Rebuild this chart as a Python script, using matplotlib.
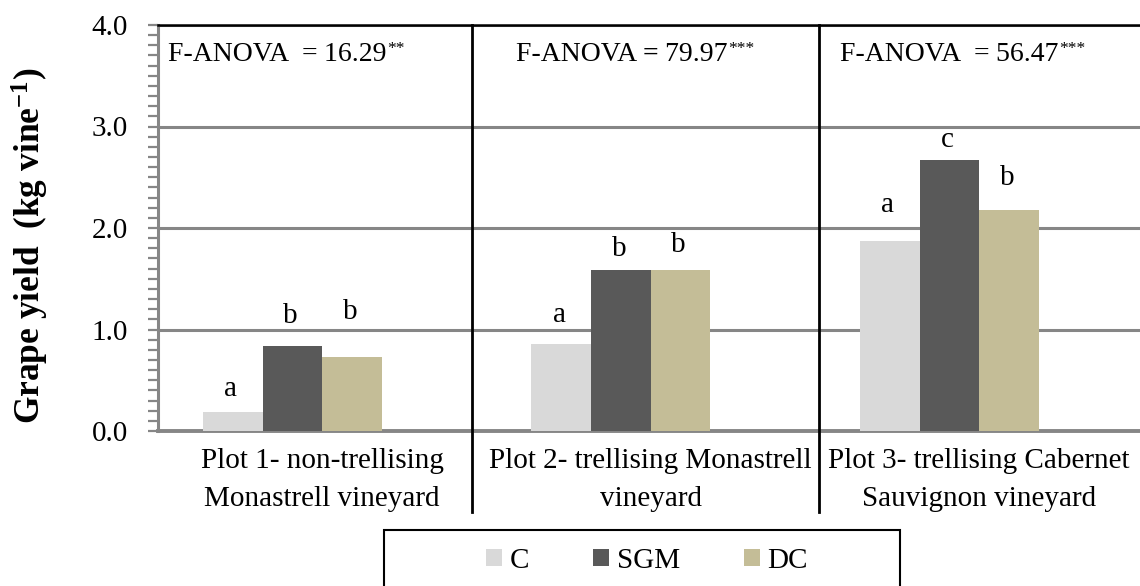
import numpy as np
import matplotlib
matplotlib.use("Agg")
import matplotlib.pyplot as plt
from matplotlib import font_manager
from matplotlib.lines import Line2D
from matplotlib.patches import Rectangle, Patch


def pick_serif():
    names = {f.name for f in font_manager.fontManager.ttflist}
    for cand in ["Liberation Serif", "Times New Roman", "Nimbus Roman",
                 "Tinos", "DejaVu Serif"]:
        if cand in names:
            return cand
    return "serif"


SERIF = pick_serif()
plt.rcParams['font.family'] = [SERIF, 'DejaVu Serif']
plt.rcParams['mathtext.fontset'] = 'custom'
plt.rcParams['mathtext.rm'] = SERIF
plt.rcParams['mathtext.it'] = SERIF + ':italic'
plt.rcParams['mathtext.bf'] = SERIF + ':bold'

# Data
categories = ["Plot 1- non-trellising\nMonastrell vineyard",
              "Plot 2- trellising Monastrell\nvineyard",
              "Plot 3- trellising Cabernet\nSauvignon vineyard"]
series_names = ["C", "SGM", "DC"]
yield_c = [0.19, 0.86, 1.87]
yield_sgm = [0.84, 1.59, 2.67]
yield_dc = [0.73, 1.59, 2.18]
letters_c = ["a", "a", "a"]
letters_sgm = ["b", "b", "c"]
letters_dc = ["b", "b", "b"]
anova_f = ["16.29", "79.97", "56.47"]
anova_sig = ["**", "***", "***"]

# Style
colors = ["#D9D9D9", "#595959", "#C4BD97"]
grid_grey = "#868686"
FS = 21

W, H = 1140, 586
fig = plt.figure(figsize=(W / 100, H / 100), dpi=100)

# axes placement in pixels
ax_left, ax_right = 158, 158 + 3 * 328.5
ax_top, ax_bottom = 25, 431
ax = fig.add_axes([ax_left / W, 1 - ax_bottom / H,
                   (ax_right - ax_left) / W, (ax_bottom - ax_top) / H])

x = np.arange(len(categories))
bw = 0.1817
series = [yield_c, yield_sgm, yield_dc]
letters = [letters_c, letters_sgm, letters_dc]
# gap between bar top and letter baseline (data units)
letter_gap = [[0.15, 0.21, 0.29], [0.22, 0.13, 0.13], [0.37, 0.17, 0.24]]

for i, (vals, col, name) in enumerate(zip(series, colors, series_names)):
    pos = x + (i - 1.5) * bw
    ax.bar(pos, vals, width=bw, color=col, label=name, zorder=3, linewidth=0)
    for p, v, lt, g in zip(pos, vals, letters[i], letter_gap[i]):
        ax.text(p - 0.006, v + g, lt, ha='center', va='baseline',
                fontsize=FS, zorder=4)

ax.set_xlim(-0.5, 2.5)
ax.set_ylim(0, 4.0)
ax.set_yticks(np.arange(0, 4.01, 1.0))
ax.set_yticklabels([f"{t:.1f}" for t in np.arange(0, 4.01, 1.0)], fontsize=FS)
ax.set_yticks(np.arange(0, 4.01, 0.1), minor=True)
ax.tick_params(axis='y', which='both', direction='out', length=7.5, width=1.6,
               color=grid_grey, pad=14)
ax.set_xticks(x)
ax.set_xticklabels(categories, fontsize=FS, linespacing=1.62)
ax.tick_params(axis='x', length=0, pad=12)

ax.yaxis.grid(True, color=grid_grey, linewidth=2.2, zorder=0)
ax.set_axisbelow(True)

ax.spines['right'].set_visible(False)
ax.spines['left'].set_color(grid_grey)
ax.spines['left'].set_linewidth(2.2)
ax.spines['bottom'].set_color(grid_grey)
ax.spines['bottom'].set_linewidth(2.8)
ax.spines['top'].set_color('black')
ax.spines['top'].set_linewidth(1.8)
ax.spines['top'].set_zorder(5)

# panel separators
for sx in [472, 819]:
    fig.add_artist(Line2D([sx / W, sx / W], [1 - 25 / H, 1 - 512 / H],
                          color='black', linewidth=2.0,
                          transform=fig.transFigure))

# F-ANOVA annotations: "F-ANOVA", "=", value, then superscript stars
anova_x = [168, 516, 840]
AFS = 20
for k, (fx, fval, sig) in enumerate(zip(anova_x, anova_f, anova_sig)):
    head = "F-ANOVA  " if k != 1 else "F-ANOVA "
    t1 = fig.text(fx / W, 1 - 67 / H, head, fontsize=AFS,
                  ha='left', va='bottom')
    t2 = ax.annotate("=", xy=(1.0, 0.0), xycoords=t1, ha='left', va='bottom',
                     fontsize=AFS, fontweight='bold' if k == 1 else 'normal',
                     annotation_clip=False)
    t3 = ax.annotate(" " + fval, xy=(1.0, 0.0), xycoords=t2, ha='left',
                     va='bottom', fontsize=AFS, annotation_clip=False)
    ax.annotate(sig, xy=(1.0, 1.0), xycoords=t3, xytext=(0.5, 1),
                textcoords='offset points', ha='left', va='top',
                fontsize=12.5, annotation_clip=False)

# y-axis label
fig.text(30 / W, 1 - 246 / H, r"Grape yield  (kg vine$^{\mathbf{-1}}$)",
         rotation=90, ha='center', va='center', fontsize=25.5,
         fontweight='bold')

# legend with frame running off the bottom edge
fig.add_artist(Rectangle((384 / W, -0.05), (900 - 384) / W,
                         1 - 530 / H + 0.05, transform=fig.transFigure,
                         fill=False, edgecolor='black', linewidth=1.5))
handles = [Patch(facecolor=c, edgecolor='none') for c in colors]
fig.legend(handles, series_names, loc='center',
           bbox_to_anchor=(647 / W, 1 - 561 / H), ncol=3, frameon=False,
           fontsize=FS, handlelength=0.55, handleheight=0.55,
           handletextpad=0.25, columnspacing=2.2, borderpad=0)

fig.savefig("out.png", dpi=100)
